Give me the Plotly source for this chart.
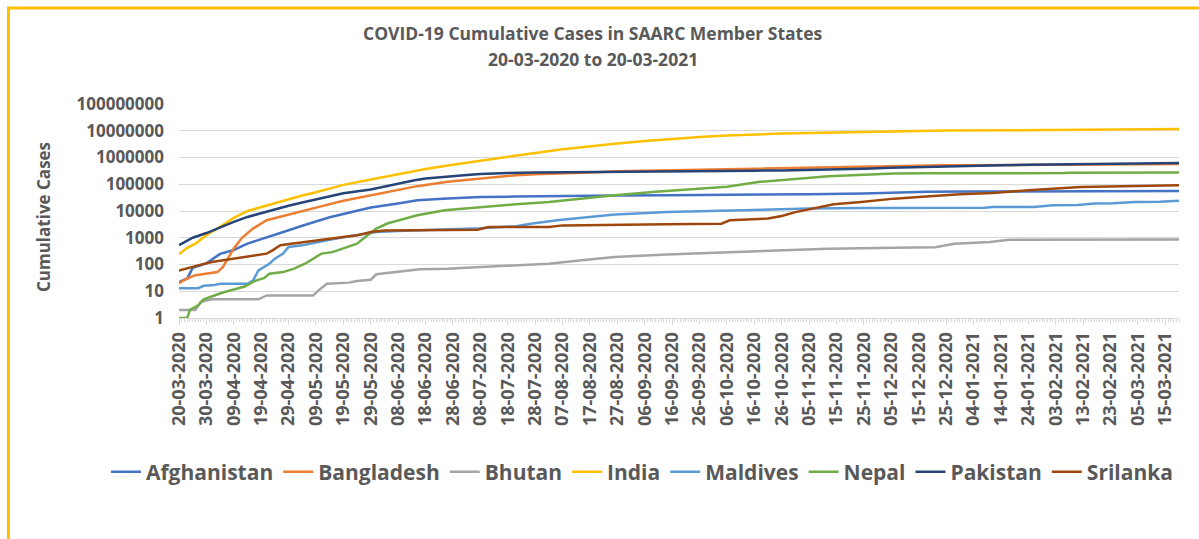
import pandas as pd
import plotly.graph_objects as go

START = "2020-03-20"

# ---- data: (day offset from 20-03-2020, cumulative cases) ----
afghanistan_days = [0, 3, 5, 10, 15, 20, 25, 30, 35, 40, 45, 50, 55, 60, 70, 80, 87, 98, 110, 122, 140, 160, 178, 200, 215, 230, 250, 262, 273, 290, 310, 330, 350, 365]
afghanistan_cases = [22, 30, 75, 110, 250, 350, 600, 900, 1300, 1900, 2800, 4000, 5800, 7700, 13400, 19000, 25000, 29300, 33600, 34500, 36900, 38100, 39000, 39600, 41000, 42600, 45500, 50000, 52000, 53500, 54700, 55500, 55900, 56100]

bangladesh_days = [0, 3, 6, 10, 14, 16, 18, 20, 23, 27, 32, 40, 50, 60, 70, 80, 87, 98, 110, 123, 130, 141, 150, 160, 170, 180, 190, 200, 210, 220, 230, 243, 250, 260, 270, 280, 290, 300, 310, 320, 330, 340, 350, 360, 365]
bangladesh_cases = [20, 30, 40, 45, 52, 80, 180, 400, 1000, 2200, 4500, 7400, 13400, 24000, 39000, 60000, 85000, 123000, 163000, 218000, 235000, 251000, 276000, 306000, 325000, 341000, 356000, 367000, 383000, 401000, 416000, 448000, 454000, 477000, 497000, 508000, 516000, 526000, 533000, 536000, 540000, 544000, 551000, 561000, 571000]

bhutan_days = [0, 6, 8, 12, 29, 32, 49, 51, 54, 62, 65, 70, 72, 76, 88, 98, 110, 123, 135, 147, 159, 178, 194, 212, 237, 261, 276, 283, 296, 303, 365]
bhutan_cases = [2, 2, 4, 5, 5, 7, 7, 11, 19, 21, 24, 27, 43, 48, 66, 70, 80, 93, 107, 145, 190, 235, 270, 318, 390, 425, 440, 600, 700, 850, 868]

india_days = [0, 3, 6, 10, 13, 16, 20, 25, 30, 35, 40, 45, 50, 55, 60, 70, 80, 90, 100, 110, 120, 130, 140, 150, 160, 170, 180, 190, 200, 210, 220, 230, 240, 250, 260, 270, 280, 290, 300, 310, 320, 330, 340, 350, 360, 365]
india_cases = [240, 420, 600, 1250, 1900, 3000, 5500, 10000, 14000, 20000, 29000, 38000, 50000, 68000, 95000, 150000, 240000, 370000, 540000, 770000, 1080000, 1480000, 2030000, 2650000, 3310000, 4110000, 4930000, 5820000, 6620000, 7310000, 7860000, 8310000, 8770000, 9180000, 9530000, 9860000, 10120000, 10340000, 10510000, 10650000, 10780000, 10890000, 11020000, 11170000, 11390000, 11560000]

maldives_days = [0, 7, 9, 13, 15, 25, 27, 29, 33, 35, 38, 40, 45, 50, 54, 60, 67, 72, 80, 87, 100, 110, 123, 129, 138, 149, 159, 171, 178, 194, 212, 230, 249, 294, 297, 312, 319, 328, 334, 341, 349, 358, 365]
maldives_cases = [13, 13, 16, 17, 19, 19, 25, 60, 107, 165, 255, 450, 520, 680, 800, 1050, 1400, 1650, 1800, 1900, 2200, 2250, 2700, 3400, 4500, 6000, 7400, 8500, 9200, 10000, 11350, 12300, 13000, 13100, 14000, 14200, 16500, 16700, 19000, 19300, 21700, 22000, 24000]

nepal_days = [0, 3, 4, 7, 9, 16, 24, 28, 31, 33, 38, 42, 46, 52, 56, 60, 65, 68, 72, 76, 80, 87, 97, 110, 123, 135, 147, 159, 174, 186, 200, 212, 225, 237, 261, 274, 323, 325, 365]
nepal_cases = [1, 1, 2, 3, 5, 9, 15, 25, 31, 45, 52, 70, 107, 255, 290, 390, 600, 1070, 2200, 3400, 4500, 6900, 10700, 14200, 17800, 21900, 29300, 39000, 52000, 63000, 80000, 123000, 163000, 200000, 250000, 256000, 262000, 272000, 276000]

pakistan_days = [0, 5, 10, 15, 20, 25, 30, 35, 40, 45, 50, 55, 60, 70, 80, 86, 90, 100, 104, 110, 117, 120, 130, 140, 150, 160, 170, 180, 190, 200, 210, 220, 230, 240, 250, 260, 273, 280, 290, 300, 310, 320, 330, 340, 350, 360, 365]
pakistan_cases = [525, 1000, 1500, 2450, 3900, 6000, 8400, 11500, 15800, 20900, 27500, 35800, 45900, 64000, 108000, 142000, 165000, 206000, 218000, 241000, 263000, 266000, 275000, 282600, 288000, 294000, 298500, 303000, 308000, 317000, 322500, 330000, 344000, 359000, 382000, 417000, 455000, 471000, 492000, 514000, 535000, 553000, 565000, 576000, 590000, 604000, 623000]

srilanka_days = [0, 4, 7, 12, 20, 27, 32, 34, 37, 41, 49, 57, 65, 70, 75, 86, 109, 113, 135, 140, 165, 178, 198, 201, 215, 220, 225, 239, 249, 261, 274, 285, 297, 310, 329, 345, 365]
srilanka_cases = [60, 80, 93, 124, 165, 200, 255, 330, 525, 600, 760, 930, 1230, 1650, 1850, 1900, 2000, 2500, 2550, 2900, 3000, 3200, 3350, 4500, 5200, 6500, 9100, 17800, 21800, 29000, 35500, 42000, 47000, 60000, 79000, 86000, 92000]

series_names = ["Afghanistan", "Bangladesh", "Bhutan", "India", "Maldives", "Nepal", "Pakistan", "Srilanka"]
series_days = [afghanistan_days, bangladesh_days, bhutan_days, india_days, maldives_days, nepal_days, pakistan_days, srilanka_days]
series_cases = [afghanistan_cases, bangladesh_cases, bhutan_cases, india_cases, maldives_cases, nepal_cases, pakistan_cases, srilanka_cases]
series_colors = ["#4472C4", "#ED7D31", "#A5A5A5", "#FFC000", "#5B9BD5", "#70AD47", "#264478", "#9E480E"]

y_tick_values = [1, 10, 100, 1000, 10000, 100000, 1000000, 10000000, 100000000]
y_tick_labels = ["1", "10", "100", "1000", "10000", "100000", "1000000", "10000000", "100000000"]

title_line1 = "COVID-19 Cumulative Cases in SAARC Member States"
title_line2 = "20-03-2020 to 20-03-2021"
y_title = "Cumulative Cases"

TXT = "#595959"
FONT = "Open Sans"
W, H = 1199, 539
L, R, T, B = 179, 20, 104, 221

start = pd.Timestamp(START)
fig = go.Figure()
for name, days, cases, color in zip(series_names, series_days, series_cases, series_colors):
    dates = [start + pd.Timedelta(days=d) for d in days]
    fig.add_trace(go.Scatter(x=dates, y=cases, mode="lines", name=name,
                             line=dict(color=color, width=2.5)))

ph = H - T - B
def py(pix):
    return (H - B - pix) / ph
def px(pix):
    return (pix - L) / (W - L - R)

fig.update_layout(
    width=W, height=H,
    margin=dict(l=L, r=R, t=T, b=B, autoexpand=False),
    paper_bgcolor="white", plot_bgcolor="white",
    font=dict(family=FONT, color=TXT),
    showlegend=True,
    legend=dict(orientation="h", x=px(106), xanchor="left", y=py(472), yanchor="middle",
                font=dict(size=21, color=TXT, weight="bold"), itemwidth=30,
                traceorder="normal", bgcolor="rgba(0,0,0,0)"),
    xaxis=dict(type="date", range=[start, start + pd.Timedelta(days=365)],
               tick0=START, dtick=10 * 86400000, tickformat="%d-%m-%Y", tickangle=-90,
               tickfont=dict(size=18, color=TXT, weight="bold"),
               showgrid=False, showline=True, linecolor="#D9D9D9", linewidth=1,
               ticks="outside", ticklen=6, tickcolor="#D9D9D9",
               minor=dict(dtick=86400000, ticks="outside", ticklen=3, tickcolor="#D9D9D9", showgrid=False),
               zeroline=False, fixedrange=True),
    yaxis=dict(type="log", range=[0, 8], tickvals=y_tick_values, ticktext=y_tick_labels,
               tickfont=dict(size=17, color=TXT, weight="bold"),
               showgrid=True, gridcolor="#D9D9D9", gridwidth=1, zeroline=False,
               showline=False, ticks="", ticklabelstandoff=14, fixedrange=True),
    annotations=[
        dict(text=title_line1, x=px(593), y=py(33), xref="paper", yref="paper",
             showarrow=False, xanchor="center", yanchor="middle",
             font=dict(size=17.5, color=TXT, weight="bold")),
        dict(text=title_line2, x=px(593), y=py(59), xref="paper", yref="paper",
             showarrow=False, xanchor="center", yanchor="middle",
             font=dict(size=17.5, color=TXT, weight="bold")),
        dict(text=y_title, x=px(43), y=py(217), xref="paper", yref="paper",
             showarrow=False, xanchor="center", yanchor="middle", textangle=-90,
             font=dict(size=17, color=TXT, weight="bold")),
    ],
    shapes=[dict(type="rect", xref="paper", yref="paper",
                 x0=px(8.5), x1=px(1210), y0=py(550), y1=py(8),
                 line=dict(color="#FFC000", width=3), fillcolor="rgba(0,0,0,0)", layer="below")],
)

fig.write_html("out.html", config={"displayModeBar": False},
               post_script="document.body.style.margin='0';document.body.style.overflow='hidden';")
